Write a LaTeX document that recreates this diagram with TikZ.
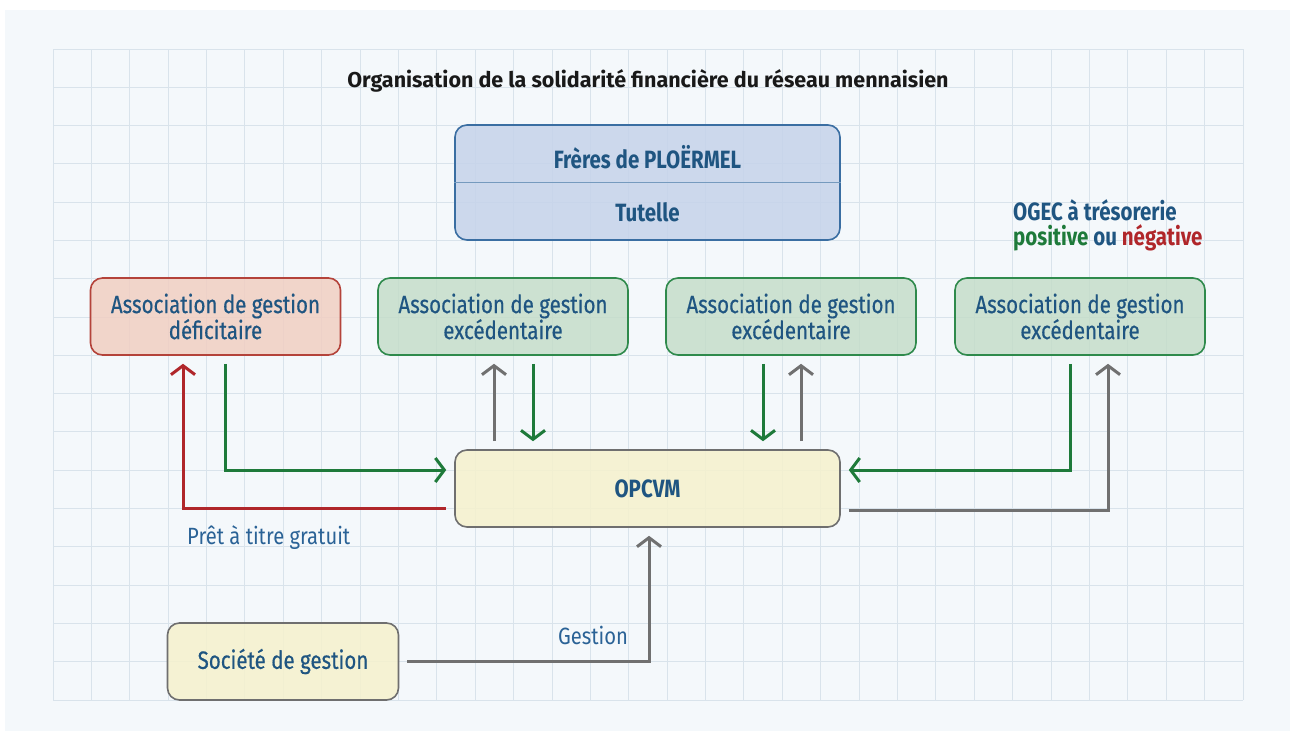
\documentclass[tikz,border=0pt]{standalone}
\usepackage{fontspec}
\setmainfont{Fira Sans}[FakeStretch=0.82]
\newfontfamily\medfont{Fira Sans}[FakeStretch=0.82,FakeBold=0.5]
\newfontfamily\titlefont{Fira Sans}
\newfontfamily\lblfont{Fira Sans}[FakeStretch=0.86]
\usetikzlibrary{arrows.meta}
\definecolor{bgc}{HTML}{F4F8FB}
\definecolor{gridc}{HTML}{D9E3EB}
\definecolor{tblue}{HTML}{1F5581}
\definecolor{lblue}{HTML}{2A6296}
\definecolor{agreen}{HTML}{1E7A3A}
\definecolor{ared}{HTML}{B0262A}
\definecolor{agray}{HTML}{707070}
\definecolor{fblue}{HTML}{C6D3EA}
\definecolor{bblue}{HTML}{3A6EA2}
\definecolor{fred}{HTML}{F1CFC2}
\definecolor{bred}{HTML}{B4433A}
\definecolor{fgreen}{HTML}{C5DDCA}
\definecolor{bgreen}{HTML}{2F8A4C}
\definecolor{fyel}{HTML}{F6F2CD}
\definecolor{byel}{HTML}{6F6F6F}
\begin{document}
\begin{tikzpicture}[x=1pt,y=-1pt,
  box/.style={rectangle,rounded corners=12pt,line width=1.6pt,inner sep=0pt,align=center,
    text=tblue,font=\medfont\fontsize{25}{26}\selectfont,fill opacity=0.85,text opacity=1},
  redbox/.style={box,draw=bred,fill=fred,minimum width=250pt,minimum height=77pt},
  greenbox/.style={box,draw=bgreen,fill=fgreen,minimum width=250pt,minimum height=77pt},
  yelbox/.style={box,draw=byel,fill=fyel},
  conn/.style={line width=3pt,-{Straight Barb[length=9pt,width=24pt,line width=3pt]}},
  redarr/.style={conn,draw=ared},
  greenarr/.style={conn,draw=agreen},
  grayarr/.style={conn,draw=agray},
  lbl/.style={text=lblue,font=\lblfont\fontsize{23.5}{26}\selectfont,inner sep=0pt},
  bold/.style={font=\bfseries\fontsize{25}{25}\selectfont}
]
\useasboundingbox (0,0) rectangle (1290,731);
\fill[white] (0,0) rectangle (1290,731);
\fill[bgc] (5,10) rectangle (1290,731);
\foreach \i in {0,...,31} \draw[gridc,line width=1pt] ({53+\i*38.387},49) -- ++(0,651);
\foreach \j in {0,...,17} \draw[gridc,line width=1pt] (53,{49+\j*38.294}) -- ++(1190,0);

\node[text=black!90,font=\titlefont\bfseries\fontsize{21.5}{24}\selectfont] (title) at (648,81) {Organisation de la solidarité financière du réseau mennaisien};

\node[box,draw=bblue,fill=fblue,minimum width=385pt,minimum height=115pt] (tut) at (647.5,182.5) {};
\draw[bblue!70,line width=1pt] (tut.west) -- (tut.east);
\node[text=tblue,bold] (freres) at (647.5,157) {Frères de PLOËRMEL};
\node[text=tblue,bold] (tutl) at (647.5,212) {Tutelle};

\node[redbox] (ad) at (215.5,316.5) {Association de gestion\\déficitaire};
\node[greenbox] (ae1) at (503,316.5) {Association de gestion\\excédentaire};
\node[greenbox] (ae2) at (791,316.5) {Association de gestion\\excédentaire};
\node[greenbox] (ae3) at (1080,316.5) {Association de gestion\\excédentaire};

\node[anchor=west,align=left,inner sep=0pt,bold] (ogec) at (1013,225.5)
  {\textcolor{tblue}{OGEC à trésorerie}\\\textcolor{agreen}{positive} \textcolor{tblue}{ou} \textcolor{ared}{négative}};

\node[yelbox,minimum width=385pt,minimum height=77pt,bold] (op) at (647.5,488.5) {OPCVM};
\node[yelbox,minimum width=231pt,minimum height=77pt] (soc) at (283,661.5) {Société de gestion};

\draw[redarr] ([xshift=-8pt,yshift=-19.5pt]op.west) -| ([xshift=-32.5pt,yshift=-8pt]ad.south);
\draw[greenarr] ([xshift=9.5pt,yshift=-8pt]ad.south) |- ([xshift=-8pt,yshift=18.5pt]op.west);
\draw[grayarr] ([xshift=-153.5pt,yshift=8pt]op.north) -- ([xshift=-9pt,yshift=-8pt]ae1.south);
\draw[greenarr] ([xshift=30pt,yshift=-8pt]ae1.south) -- ([xshift=-114.5pt,yshift=8pt]op.north);
\draw[greenarr] ([xshift=-28pt,yshift=-8pt]ae2.south) -- ([xshift=115.5pt,yshift=8pt]op.north);
\draw[grayarr] ([xshift=153.5pt,yshift=8pt]op.north) -- ([xshift=10pt,yshift=-8pt]ae2.south);
\draw[greenarr] ([xshift=-10pt,yshift=-8pt]ae3.south) |- ([xshift=8pt,yshift=18.5pt]op.east);
\draw[grayarr] ([xshift=8pt,yshift=-21.5pt]op.east) -| ([xshift=28pt,yshift=-8pt]ae3.south);
\draw[grayarr] ([xshift=8pt]soc.east) -| ([xshift=1.5pt,yshift=-8pt]op.south);

\node[lbl,anchor=west] (pret) at (187,538) {Prêt à titre gratuit};
\node[lbl] (gest) at (593,635) {Gestion};
\end{tikzpicture}
\end{document}
